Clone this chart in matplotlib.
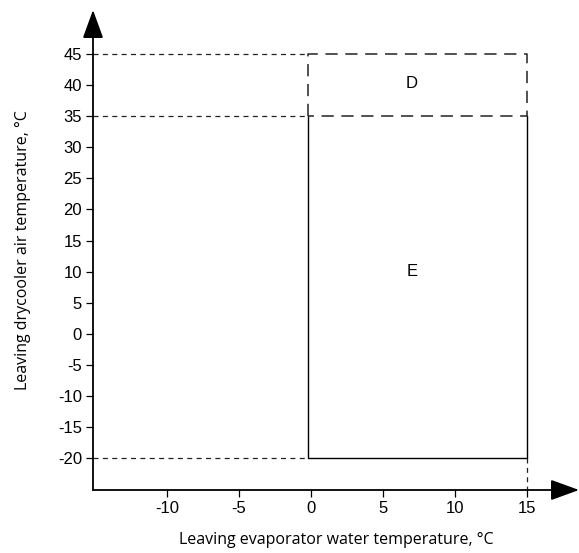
import matplotlib.pyplot as plt

# operating envelope (leaving water temp x, leaving air temp y)
e_x = [-0.2, -0.2, 15, 15]
e_y = [35, -20, -20, 35]
d_x = [-0.2, -0.2, 15, 15, -0.2]
d_y = [35, 45, 45, 35, 35]
guide_y = [45, 35, -20]
x_ticks = [-10, -5, 0, 5, 10, 15]
y_ticks = [45, 40, 35, 30, 25, 20, 15, 10, 5, 0, -5, -10, -15, -20]
zone_labels = ["D", "E"]
zone_pos = [(7, 40.3), (7, 10)]

fig = plt.figure(figsize=(5.79, 5.53), dpi=100)
ax = fig.add_axes([93 / 579, 63 / 553, 1 - 93 / 579, (490 - 10) / 553])
ax.set_xlim(-15.14, 18.6)
ax.set_ylim(-25.15, 52.1)

for s in ["top", "right", "left", "bottom"]:
    ax.spines[s].set_visible(False)

# axes with arrows
ax.annotate("", xy=(1, 0), xytext=(0, 0), xycoords="axes fraction",
            arrowprops=dict(arrowstyle="-|>,head_length=1.1,head_width=0.4",
                            color="black", lw=1.3, mutation_scale=16, shrinkA=0, shrinkB=0))
ax.annotate("", xy=(0, 1), xytext=(0, 0), xycoords="axes fraction",
            arrowprops=dict(arrowstyle="-|>,head_length=1.1,head_width=0.4",
                            color="black", lw=1.3, mutation_scale=16, shrinkA=0, shrinkB=0))

# guide lines
for y in guide_y:
    ax.plot([-15.14, -0.2], [y, y], color="#222222", lw=0.9, dashes=(4, 3.5))
ax.plot([15, 15], [-20, -25.15], color="#222222", lw=0.9, dashes=(4, 3.5))

ax.plot(e_x, e_y, color="black", lw=1.0)
ax.plot(d_x, d_y, color="#222222", lw=1.1, dashes=(8, 5))

for lab, (x, y) in zip(zone_labels, zone_pos):
    ax.text(x, y, lab, ha="center", va="center", fontsize=12, family="Liberation Sans")

ax.set_xticks(x_ticks)
ax.set_yticks(y_ticks)
ax.set_xticklabels([str(v) for v in x_ticks], family="Liberation Sans", fontsize=12)
ax.set_yticklabels([str(v) for v in y_ticks], family="Liberation Sans", fontsize=12)
ax.tick_params(axis="both", direction="out", length=5, width=0.9, pad=3)

ax.set_xlabel("Leaving evaporator water temperature, °C", family="Open Sans", fontsize=11.5, va="center")
ax.xaxis.set_label_coords(0.5, -0.104)
ax.set_ylabel("Leaving drycooler air temperature, °C", family="Open Sans", fontsize=11.5, va="center")
ax.yaxis.set_label_coords(-0.144, 0.5)

fig.savefig("out.png", dpi=100)
